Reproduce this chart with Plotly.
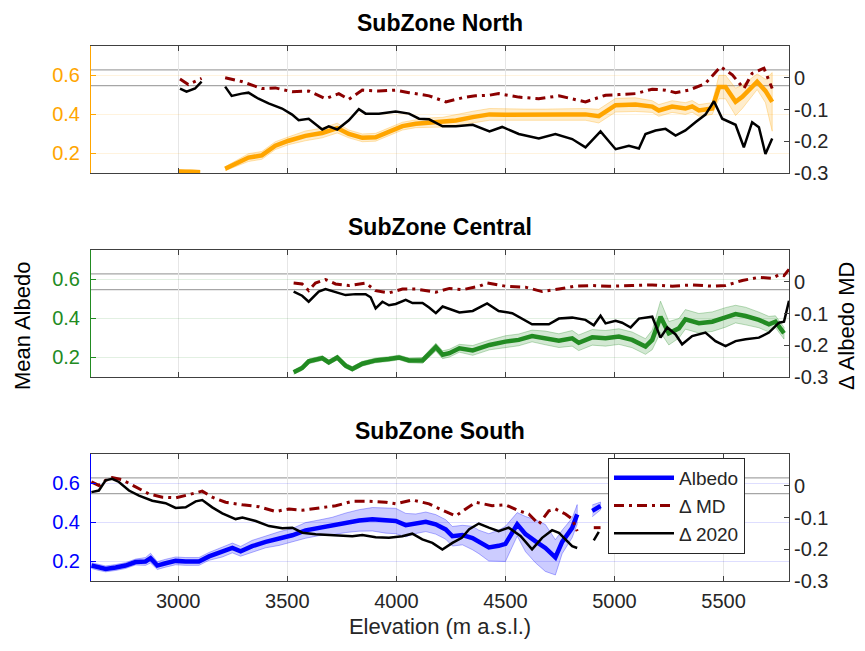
import plotly.graph_objects as go

# ---------------- data ----------------
X_RANGE = [2600, 5800]
ALB_RANGE = [0.1, 0.75]
DELTA_RANGE = [-0.3, 0.1]
x_ticks = [3000, 3500, 4000, 4500, 5000, 5500]
alb_ticks = [0.2, 0.4, 0.6]
alb_tick_labels = ["0.2", "0.4", "0.6"]
delta_ticks = [-0.3, -0.2, -0.1, 0.0]
delta_tick_labels = ["-0.3", "-0.2", "-0.1", "0"]
ref_lines = [0.025, -0.025]
panel_titles = ["SubZone North", "SubZone Central", "SubZone South"]
legend_names = ["Albedo", "\u0394 MD", "\u0394 2020"]

# North
north_alb_x = [3000, 3030, 3060, 3100, None, 3215, 3276, 3322, 3383, 3445, 3506, 3583, 3660, 3729, 3782,
               3844, 3905, 3966, 4028, 4089, 4150, 4212, 4273, 4350, 4427, 4500, 4592, 4683, 4775,
               4867, 4928, 5005, 5096, 5173, 5203, 5264, 5325, 5356, 5387, 5448, 5479, 5509, 5555,
               5586, 5654, 5692, 5723]
north_alb = [0.108, 0.106, 0.108, 0.104, None, 0.122, 0.153, 0.179, 0.19, 0.24, 0.265, 0.29, 0.305, 0.33, 0.30,
             0.28, 0.283, 0.31, 0.34, 0.352, 0.357, 0.36, 0.369, 0.386, 0.40, 0.398, 0.397, 0.397, 0.40,
             0.40, 0.391, 0.447, 0.45, 0.44, 0.42, 0.44, 0.43, 0.441, 0.42, 0.43, 0.54, 0.54, 0.464,
             0.49, 0.567, 0.52, 0.464]
north_alb_spread = [0.01, 0.01, 0.01, 0.01, None, 0.01, 0.015, 0.02, 0.02, 0.02, 0.02, 0.025, 0.025, 0.025, 0.02,
                    0.02, 0.02, 0.02, 0.02, 0.02, 0.025, 0.025, 0.03, 0.03, 0.03, 0.03, 0.03, 0.03, 0.03,
                    0.03, 0.035, 0.035, 0.035, 0.03, 0.03, 0.03, 0.03, 0.03, 0.03, 0.03, 0.06, 0.06, 0.07,
                    0.06, 0.04, 0.06, 0.15]
north_md_x = [3008, 3046, 3107, None, 3215, 3291, 3383, 3445, 3522, 3598, 3675, 3736, 3782, 3844, 3920, 3997,
              4058, 4150, 4227, 4304, 4362, 4427, 4469, 4561, 4653, 4745, 4867, 4959, 5020, 5096, 5173,
              5234, 5280, 5341, 5417, 5486, 5540, 5593, 5631, 5685, 5723]
north_md = [-0.004, -0.021, -0.002, None, 0.0, -0.012, -0.034, -0.032, -0.044, -0.042, -0.066, -0.05, -0.068,
            -0.039, -0.042, -0.039, -0.047, -0.057, -0.076, -0.063, -0.057, -0.055, -0.05, -0.061, -0.066,
            -0.057, -0.076, -0.055, -0.053, -0.05, -0.036, -0.039, -0.047, -0.039, -0.018, 0.035, 0.009,
            -0.034, 0.014, 0.03, -0.034]
north_d20_x = [3008, 3038, 3077, 3107, None, 3215, 3245, 3291, 3322, 3368, 3414, 3476, 3522, 3552, 3598, 3660,
               3690, 3729, 3782, 3828, 3859, 3920, 3997, 4058, 4104, 4150, 4212, 4273, 4350, 4427, 4485,
               4561, 4653, 4729, 4806, 4867, 4936, 5005, 5066, 5112, 5142, 5188, 5234, 5280, 5325, 5371,
               5417, 5456, 5494, 5555, 5593, 5631, 5662, 5692, 5723]
north_d20 = [-0.034, -0.044, -0.034, -0.012, None, -0.028, -0.057, -0.05, -0.047, -0.066, -0.081, -0.097,
             -0.116, -0.134, -0.129, -0.163, -0.153, -0.163, -0.134, -0.099, -0.113, -0.113, -0.106, -0.113,
             -0.129, -0.131, -0.153, -0.153, -0.148, -0.169, -0.155, -0.177, -0.191, -0.177, -0.193, -0.219,
             -0.169, -0.225, -0.214, -0.223, -0.177, -0.166, -0.161, -0.182, -0.166, -0.14, -0.116, -0.074,
             -0.129, -0.148, -0.219, -0.14, -0.156, -0.24, -0.191]

# Central
central_alb_x = [3529, 3568, 3598, 3660, 3690, 3729, 3767, 3798, 3844, 3905, 3966, 4012, 4058, 4120, 4181,
                 4212, 4243, 4289, 4350, 4427, 4500, 4561, 4622, 4683, 4745, 4806, 4836, 4898, 4959, 5020,
                 5081, 5142, 5173, 5211, 5249, 5295, 5325, 5387, 5448, 5509, 5555, 5601, 5662, 5708, 5738, 5777]
central_alb = [0.124, 0.146, 0.18, 0.197, 0.175, 0.20, 0.158, 0.141, 0.168, 0.185, 0.192, 0.20, 0.185, 0.185,
               0.253, 0.214, 0.222, 0.247, 0.236, 0.264, 0.281, 0.29, 0.31, 0.30, 0.286, 0.298, 0.275, 0.303,
               0.298, 0.307, 0.29, 0.256, 0.29, 0.408, 0.324, 0.349, 0.395, 0.375, 0.383, 0.405, 0.422, 0.412,
               0.392, 0.37, 0.383, 0.324]
central_alb_spread = [0.01, 0.012, 0.012, 0.012, 0.012, 0.012, 0.012, 0.012, 0.012, 0.012, 0.012, 0.012, 0.012,
                      0.015, 0.02, 0.02, 0.02, 0.02, 0.025, 0.025, 0.03, 0.03, 0.03, 0.035, 0.035, 0.04, 0.04,
                      0.04, 0.04, 0.04, 0.04, 0.04, 0.05, 0.08, 0.06, 0.05, 0.05, 0.05, 0.05, 0.05, 0.045,
                      0.045, 0.04, 0.04, 0.03, 0.03]
central_md_x = [3529, 3568, 3598, 3629, 3675, 3721, 3782, 3859, 3905, 3966, 4028, 4089, 4181, 4243, 4304, 4381,
                4416, 4500, 4592, 4668, 4745, 4821, 4898, 4974, 5081, 5173, 5264, 5356, 5448, 5509, 5586,
                5662, 5723, 5754, 5777, 5800]
central_md = [-0.004, -0.007, -0.028, -0.004, 0.007, -0.007, -0.012, -0.004, -0.028, -0.035, -0.023, -0.023,
              -0.033, -0.021, -0.025, -0.014, -0.004, -0.014, -0.017, -0.031, -0.023, -0.014, -0.012, -0.014,
              -0.012, -0.010, -0.014, -0.010, -0.014, -0.012, 0.004, 0.014, 0.011, 0.022, 0.019, 0.039]
central_d20_x = [3529, 3568, 3598, 3644, 3675, 3721, 3767, 3813, 3859, 3882, 3905, 3936, 3966, 3997, 4043,
                 4074, 4120, 4150, 4181, 4212, 4243, 4289, 4350, 4416, 4469, 4531, 4622, 4699, 4745, 4806,
                 4867, 4905, 4936, 4959, 5005, 5035, 5074, 5112, 5173, 5211, 5242, 5280, 5310, 5356, 5417,
                 5463, 5509, 5555, 5601, 5662, 5708, 5754, 5777, 5800]
central_d20 = [-0.031, -0.044, -0.063, -0.031, -0.023, -0.033, -0.042, -0.039, -0.039, -0.049, -0.084, -0.063,
               -0.074, -0.070, -0.057, -0.067, -0.067, -0.081, -0.099, -0.078, -0.086, -0.097, -0.092, -0.068,
               -0.092, -0.099, -0.134, -0.134, -0.116, -0.113, -0.120, -0.137, -0.107, -0.131, -0.123, -0.129,
               -0.144, -0.116, -0.110, -0.176, -0.144, -0.166, -0.197, -0.171, -0.160, -0.187, -0.203, -0.187,
               -0.181, -0.176, -0.160, -0.129, -0.126, -0.060]

# South
south_alb_x = [2602, 2636, 2667, 2713, 2758, 2804, 2850, 2873, 2904, 2942, 2988, 3034, 3095, 3141, 3202, 3248,
               3286, 3339, 3401, 3462, 3523, 3584, 3645, 3706, 3768, 3829, 3890, 3951, 3997, 4043, 4089,
               4135, 4180, 4226, 4257, 4303, 4349, 4378, 4424, 4469, 4500, 4554, 4592, 4638, 4683, 4729,
               4760, 4806, 4829, None, 4898, 4936]
south_alb = [0.179, 0.169, 0.162, 0.169, 0.179, 0.197, 0.20, 0.217, 0.179, 0.191, 0.203, 0.20, 0.20, 0.226,
             0.248, 0.269, 0.252, 0.278, 0.30, 0.317, 0.334, 0.359, 0.372, 0.381, 0.398, 0.41, 0.416, 0.41,
             0.407, 0.386, 0.393, 0.403, 0.39, 0.364, 0.329, 0.335, 0.32, 0.30, 0.272, 0.28, 0.29, 0.39,
             0.34, 0.303, 0.269, 0.221, 0.30, 0.372, 0.441, None, 0.459, 0.484]
south_alb_spread = [0.015, 0.015, 0.015, 0.015, 0.015, 0.015, 0.02, 0.025, 0.02, 0.02, 0.02, 0.02, 0.02, 0.02,
                    0.025, 0.025, 0.025, 0.03, 0.03, 0.035, 0.035, 0.04, 0.04, 0.045, 0.05, 0.055, 0.06, 0.065,
                    0.065, 0.06, 0.05, 0.05, 0.05, 0.05, 0.05, 0.05, 0.06, 0.06, 0.07, 0.08, 0.09, 0.06, 0.09,
                    0.11, 0.12, 0.09, 0.06, 0.05, 0.05, None, 0.03, 0.02]
south_md_x = [2602, 2636, 2667, 2697, 2743, 2804, 2866, 2927, 2988, 3049, 3110, 3156, 3217, 3294, 3370, 3447,
              3508, 3569, 3645, 3722, 3798, 3875, 3951, 3997, 4073, 4150, 4211, 4272, 4318, 4364, 4439, 4500,
              4561, 4607, 4653, 4699, 4729, 4775, 4806, 4829, None, 4905, 4936]
south_md = [0.012, 0.001, 0.017, 0.026, 0.019, -0.004, -0.026, -0.036, -0.038, -0.028, -0.017, -0.036, -0.052,
            -0.06, -0.066, -0.081, -0.073, -0.077, -0.070, -0.063, -0.049, -0.049, -0.052, -0.057, -0.045,
            -0.057, -0.077, -0.095, -0.073, -0.052, -0.063, -0.060, -0.079, -0.089, -0.121, -0.079, -0.073,
            -0.089, -0.105, -0.143, None, -0.132, -0.132]
south_d20_x = [2602, 2636, 2667, 2697, 2728, 2774, 2820, 2881, 2942, 2988, 3034, 3080, 3110, 3156, 3202, 3263,
               3294, 3355, 3416, 3477, 3523, 3569, 3630, 3691, 3752, 3798, 3844, 3905, 3966, 4027, 4073, 4119,
               4165, 4211, 4257, 4300, 4334, 4378, 4424, 4469, 4515, 4569, 4622, 4668, 4714, 4745, 4775, 4806,
               4829, None, 4905, 4928]
south_d20 = [-0.020, -0.015, 0.017, 0.022, 0.012, -0.015, -0.031, -0.047, -0.055, -0.070, -0.068, -0.049,
             -0.045, -0.068, -0.087, -0.105, -0.100, -0.111, -0.127, -0.134, -0.132, -0.148, -0.153, -0.155,
             -0.159, -0.159, -0.155, -0.162, -0.164, -0.159, -0.151, -0.169, -0.180, -0.201, -0.180, -0.164,
             -0.137, -0.119, -0.132, -0.143, -0.132, -0.158, -0.200, -0.164, -0.140, -0.148, -0.169, -0.190,
             -0.196, None, -0.172, -0.145]

# ---------------- styling ----------------
FONT = "Liberation Sans, Arial, Helvetica, sans-serif"
TXT = "#262626"
MD_COLOR = "#8B0000"
D20_COLOR = "#000000"
TICK_SIZE = 20
panels = [
    dict(color=(255, 165, 0), ax=north_alb_x, a=north_alb, s=north_alb_spread,
         mx=north_md_x, m=north_md, dx=north_d20_x, d=north_d20),
    dict(color=(34, 139, 34), ax=central_alb_x, a=central_alb, s=central_alb_spread,
         mx=central_md_x, m=central_md, dx=central_d20_x, d=central_d20),
    dict(color=(0, 0, 255), ax=south_alb_x, a=south_alb, s=south_alb_spread,
         mx=south_md_x, m=south_md, dx=south_d20_x, d=south_d20),
]

H = 651
PLOT_TOP, PLOT_BOT = 38, 573
panel_px = [(38, 165), (242, 369), (446, 573)]


def paper_y(py):
    return (PLOT_BOT - py) / (PLOT_BOT - PLOT_TOP)


def paper_x(px):
    return (px - 83) / (865 - 83 - 84)


def rgba(c, a):
    return "rgba(%d,%d,%d,%s)" % (c[0], c[1], c[2], a)


def band(xs, ys, ss):
    segs, cur = [], []
    for x, y, s in zip(xs, ys, ss):
        if x is None or y is None:
            if cur:
                segs.append(cur)
            cur = []
        else:
            cur.append((x, y, s))
    if cur:
        segs.append(cur)
    bx, by = [], []
    for seg in segs:
        fx = [p[0] for p in seg]
        up = [p[1] + p[2] for p in seg]
        lo = [p[1] - p[2] for p in seg]
        bx += fx + fx[::-1] + [None]
        by += up + lo[::-1] + [None]
    return bx, by


fig = go.Figure()
layout = dict(width=865, height=H, paper_bgcolor="white", plot_bgcolor="white",
              margin=dict(l=83, r=84, t=PLOT_TOP, b=H - PLOT_BOT),
              font=dict(family=FONT, color=TXT, size=TICK_SIZE), showlegend=True)
shapes, annotations = [], []

for i, p in enumerate(panels):
    xname = "x" if i == 0 else "x%d" % (i + 1)
    yl = "y" if i == 0 else "y%d" % (2 * i + 1)
    yr = "y%d" % (2 * i + 2)
    c = p["color"]
    col = rgba(c, 1)
    last = (i == 2)

    bx, by = band(p["ax"], p["a"], p["s"])
    fig.add_trace(go.Scatter(x=bx, y=by, xaxis=xname, yaxis=yl, mode="lines", fill="toself",
                             fillcolor=rgba(c, 0.2), line=dict(color=rgba(c, 0.3), width=1),
                             hoverinfo="skip", showlegend=False))
    fig.add_trace(go.Scatter(x=p["ax"], y=p["a"], xaxis=xname, yaxis=yl, mode="lines",
                             line=dict(color=col, width=4.5), name=legend_names[0],
                             showlegend=last, connectgaps=False))
    fig.add_trace(go.Scatter(x=p["mx"], y=p["m"], xaxis=xname, yaxis=yr, mode="lines",
                             line=dict(color=MD_COLOR, width=3, dash="10px,5px,3px,5px"),
                             name=legend_names[1], showlegend=last, connectgaps=False))
    fig.add_trace(go.Scatter(x=p["dx"], y=p["d"], xaxis=xname, yaxis=yr, mode="lines",
                             line=dict(color=D20_COLOR, width=2.5), name=legend_names[2],
                             showlegend=last, connectgaps=False))

    top, bot = panel_px[i]
    dom = [paper_y(bot), paper_y(top)]
    xkey = "xaxis" if i == 0 else "xaxis%d" % (i + 1)
    layout[xkey] = dict(domain=[0, 1], anchor=yl, range=X_RANGE, tickvals=x_ticks,
                        showticklabels=last, ticks="inside", ticklen=5, tickcolor="#404040",
                        showline=True, linecolor="#404040", linewidth=1, mirror="ticks",
                        showgrid=True, gridcolor="#e6e6e6", gridwidth=1, zeroline=False,
                        tickfont=dict(size=TICK_SIZE, color=TXT))
    if i > 0:
        layout[xkey]["matches"] = "x"
    if last:
        layout[xkey]["ticklabelstandoff"] = 2
        layout[xkey]["title"] = dict(text="Elevation (m a.s.l.)", font=dict(size=22, color=TXT), standoff=7)
    ylkey = "yaxis" if i == 0 else "yaxis%d" % (2 * i + 1)
    layout[ylkey] = dict(domain=dom, anchor=xname, range=ALB_RANGE, tickvals=alb_ticks,
                         ticktext=alb_tick_labels, ticks="inside", ticklen=5, tickcolor=col,
                         showline=True, linecolor=col, linewidth=1, showgrid=True, ticklabelstandoff=6,
                         gridcolor=rgba(c, 0.13), zeroline=False, tickfont=dict(size=TICK_SIZE, color=col))
    layout["yaxis%d" % (2 * i + 2)] = dict(overlaying=yl, side="right", anchor=xname, range=DELTA_RANGE,
                                           tickvals=delta_ticks, ticktext=delta_tick_labels, ticks="inside",
                                           ticklen=5, tickcolor="#404040", showline=True, linecolor="#404040",
                                           linewidth=1, showgrid=False, zeroline=False,
                                           tickfont=dict(size=TICK_SIZE, color=TXT))
    for v in ref_lines:
        shapes.append(dict(type="line", xref="%s domain" % xname, yref=yr, x0=0, x1=1, y0=v, y1=v,
                           line=dict(color="#a6a6a6", width=1.3), layer="below"))
    annotations.append(dict(text="<b>%s</b>" % panel_titles[i], x=0.5, xref="paper",
                            y=paper_y(top - 23), yref="paper", showarrow=False,
                            font=dict(size=23, color="#000000"), xanchor="center", yanchor="middle"))

annotations.append(dict(text="Mean Albedo", x=paper_x(14), xref="paper", y=paper_y(318), yref="paper",
                        showarrow=False, textangle=-90, font=dict(size=22, color="#000000"),
                        xanchor="center", yanchor="middle"))
annotations.append(dict(text="\u0394 Albedo MD", x=paper_x(838), xref="paper", y=paper_y(318), yref="paper",
                        showarrow=False, textangle=-90, font=dict(size=22, color="#000000"),
                        xanchor="center", yanchor="middle"))

layout["shapes"] = shapes
layout["annotations"] = annotations
layout["legend"] = dict(x=paper_x(600), y=paper_y(450), xanchor="left", yanchor="top", bgcolor="white",
                        bordercolor="#262626", borderwidth=1, font=dict(size=19, color=TXT),
                        itemwidth=60, tracegroupgap=0)
fig.update_layout(**layout)
fig.write_html("out.html")
